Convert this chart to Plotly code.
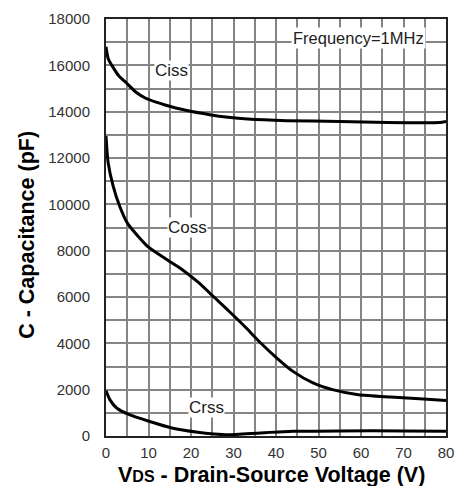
import plotly.graph_objects as go

# Drain-source voltage (V) sample points for each capacitance curve
vds_ciss = [0, 0.5, 1.7, 3, 4.75, 7, 9.35, 12, 13.9, 18.5, 24.7, 28.7, 33.3, 42.5, 55, 66.2, 78.5, 80]
ciss = [16800, 16300, 15900, 15550, 15250, 14850, 14580, 14400, 14290, 14070, 13860, 13760, 13680, 13610, 13580, 13530, 13530, 13580]

vds_coss = [0, 0.5, 1.67, 3.2, 5, 7.8, 10, 14, 17.8, 21.6, 25.4, 30, 32.6, 36.4, 40.2, 44, 48.7, 53.3, 59.4, 67, 74.7, 80]
coss = [12950, 11800, 10800, 9930, 9200, 8570, 8150, 7650, 7200, 6650, 6000, 5200, 4735, 4015, 3365, 2790, 2290, 2000, 1780, 1680, 1600, 1530]

vds_crss = [0, 0.9, 2.5, 5.5, 10.1, 15.5, 21.6, 25.4, 28.7, 36.4, 44, 55, 70, 80]
crss = [1950, 1570, 1210, 920, 635, 345, 160, 85, 50, 130, 200, 220, 220, 210]

y_ticks = [0, 2000, 4000, 6000, 8000, 10000, 12000, 14000, 16000, 18000]
x_ticks = [0, 10, 20, 30, 40, 50, 60, 70, 80]

FONT = "Arial, Liberation Sans, sans-serif"

fig = go.Figure()
line_style = dict(color="black", width=3, shape="spline", smoothing=0.6)
fig.add_trace(go.Scatter(x=vds_ciss, y=ciss, mode="lines", line=line_style, name="Ciss"))
fig.add_trace(go.Scatter(x=vds_coss, y=coss, mode="lines", line=line_style, name="Coss"))
fig.add_trace(go.Scatter(x=vds_crss, y=crss, mode="lines", line=line_style, name="Crss"))

label_font = dict(family=FONT, size=17, color="#222")
for txt, x, y in [("Ciss", 15.3, 15770), ("Coss", 19.1, 9000), ("Crss", 23.6, 1210)]:
    fig.add_annotation(x=x, y=y, text=txt, showarrow=False, font=label_font,
                       bgcolor="white", borderpad=0)
fig.add_annotation(x=59.5, y=17180, text="Frequency=1MHz", showarrow=False,
                   font=dict(family=FONT, size=16.5, color="#222"), bgcolor="white", borderpad=1)

# axis titles placed in paper coordinates
title_font = dict(family=FONT, size=21.5, color="black")
fig.add_annotation(xref="paper", yref="paper", x=0.4856, y=-0.0945,
                   text="<b>V<span style='font-size:16px'>DS</span> - Drain-Source Voltage (V)</b>",
                   showarrow=False, font=title_font, xanchor="center", yanchor="middle")
fig.add_annotation(xref="paper", yref="paper", x=-0.233, y=0.482,
                   text="<b>C - Capacitance (pF)</b>", textangle=-90,
                   showarrow=False, font=title_font, xanchor="center", yanchor="middle")

grid = dict(showgrid=True, gridcolor="#858585", gridwidth=1.5,
            showline=True, linecolor="#222", linewidth=2, mirror=True,
            ticks="", zeroline=False,
            tickfont=dict(family=FONT, size=15, color="#333"))

fig.update_xaxes(range=[0, 80], tickvals=x_ticks, ticktext=[str(v) for v in x_ticks],
                 minor=dict(dtick=5, showgrid=True, gridcolor="#858585", gridwidth=1.5),
                 ticklabelstandoff=2, **grid)
fig.update_yaxes(range=[0, 18000], tickvals=y_ticks, ticktext=[str(v) for v in y_ticks],
                 minor=dict(dtick=1000, showgrid=True, gridcolor="#858585", gridwidth=1.5),
                 ticklabelstandoff=11, **grid)

fig.update_layout(width=462, height=486, margin=dict(l=106, r=8, t=19, b=50),
                  plot_bgcolor="white", paper_bgcolor="white", showlegend=False)

fig.write_html("out.html")
